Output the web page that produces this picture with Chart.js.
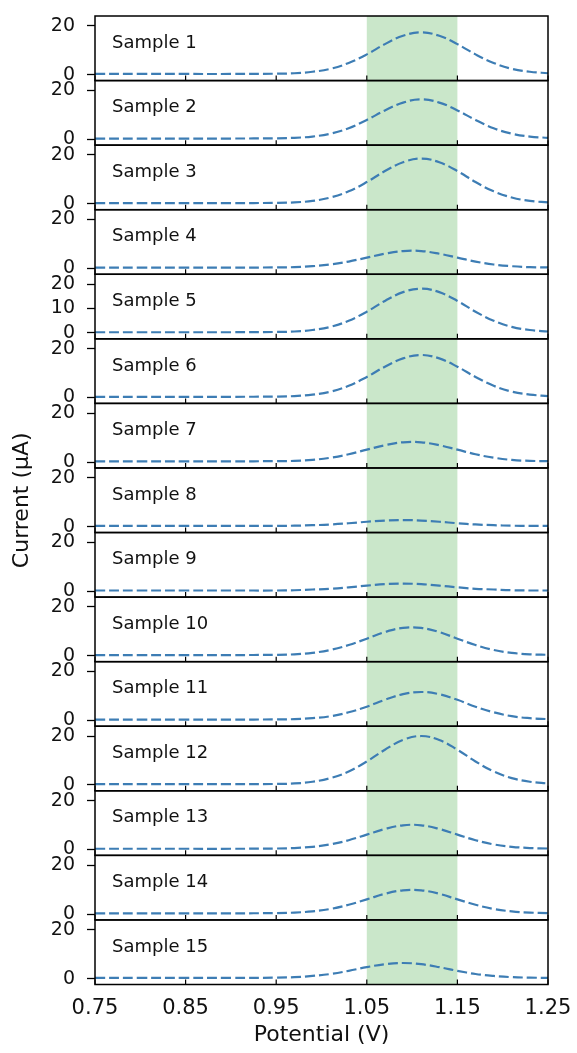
<!DOCTYPE html>
<html lang="en">
<head>
<meta charset="UTF-8">
<title>Samples - Current vs Potential</title>
<script src="https://cdn.jsdelivr.net/npm/chart.js"></script>
<style>
  body { margin: 0; background: #fff; }
  #wrap { width: 577px; height: 1053px; }
</style>
</head>
<body>
<div id="wrap"><canvas id="chart" width="577" height="1053"></canvas></div>
<script>
// potential (V) sample points shared by every trace
const potentials = [0.75, 0.80, 0.85, 0.90, 0.95, 0.97, 0.99, 1.01, 1.03, 1.05, 1.07, 1.09, 1.11, 1.13, 1.15, 1.17, 1.19, 1.21, 1.23, 1.25];

// current (uA)
const sample1  = [0.3,0.3,0.3,0.3,0.4,0.6,1.2,2.4,4.8,8.3,12.5,15.9,17.3,15.9,12.5,8.3,4.8,2.4,1.2,0.6];
const sample2  = [0.3,0.3,0.3,0.3,0.4,0.6,1.1,2.3,4.5,7.9,11.8,15.0,16.3,15.0,11.8,7.9,4.5,2.3,1.1,0.6];
const sample3  = [0.3,0.3,0.3,0.3,0.4,0.6,1.2,2.6,5.1,8.9,13.4,17.0,18.5,17.0,13.4,8.9,5.1,2.6,1.2,0.6];
const sample4  = [0.3,0.3,0.3,0.3,0.4,0.5,0.9,1.6,2.8,4.4,6.0,7.1,7.1,6.0,4.4,2.8,1.6,0.9,0.5,0.4];
const sample5  = [0.3,0.3,0.3,0.3,0.4,0.6,1.2,2.5,5.0,8.7,13.1,16.7,18.1,16.7,13.1,8.7,5.0,2.5,1.2,0.6];
const sample6  = [0.3,0.3,0.3,0.3,0.4,0.6,1.2,2.4,4.8,8.4,12.6,16.0,17.4,16.0,12.6,8.4,4.8,2.4,1.2,0.6];
const sample7  = [0.3,0.3,0.3,0.3,0.4,0.5,0.9,1.8,3.2,5.1,6.9,8.1,8.1,6.9,5.1,3.2,1.8,0.9,0.5,0.4];
const sample8  = [0.3,0.3,0.3,0.3,0.3,0.4,0.6,0.9,1.4,2.0,2.5,2.7,2.5,2.0,1.4,0.9,0.6,0.4,0.3,0.3];
const sample9  = [0.3,0.3,0.3,0.3,0.3,0.4,0.7,1.0,1.6,2.3,2.9,3.1,2.9,2.3,1.6,1.0,0.7,0.4,0.3,0.3];
const sample10 = [0.3,0.3,0.3,0.3,0.4,0.6,1.2,2.4,4.4,7.0,9.7,11.4,11.4,9.7,7.0,4.4,2.4,1.2,0.6,0.4];
const sample11 = [0.3,0.3,0.3,0.3,0.4,0.5,0.9,1.7,3.3,5.6,8.4,10.7,11.6,10.7,8.4,5.6,3.3,1.7,0.9,0.5];
const sample12 = [0.3,0.3,0.3,0.3,0.4,0.6,1.3,2.8,5.5,9.6,14.4,18.4,20.0,18.4,14.4,9.6,5.5,2.8,1.3,0.6];
const sample13 = [0.3,0.3,0.3,0.3,0.4,0.6,1.1,2.1,3.8,6.1,8.4,9.9,9.9,8.4,6.1,3.8,2.1,1.1,0.6,0.4];
const sample14 = [0.3,0.3,0.3,0.3,0.4,0.6,1.1,2.1,3.8,6.0,8.3,9.7,9.7,8.3,6.0,3.8,2.1,1.1,0.6,0.4];
const sample15 = [0.3,0.3,0.3,0.3,0.4,0.6,1.1,1.9,3.2,4.7,5.9,6.4,5.9,4.7,3.2,1.9,1.1,0.6,0.4,0.3];

const sampleNames = ['Sample 1','Sample 2','Sample 3','Sample 4','Sample 5','Sample 6','Sample 7','Sample 8',
                     'Sample 9','Sample 10','Sample 11','Sample 12','Sample 13','Sample 14','Sample 15'];
const sampleSeries = [sample1, sample2, sample3, sample4, sample5, sample6, sample7, sample8,
                      sample9, sample10, sample11, sample12, sample13, sample14, sample15];

const xTickValues = [0.75, 0.85, 0.95, 1.05, 1.15, 1.25];
const xTickLabels = ['0.75', '0.85', '0.95', '1.05', '1.15', '1.25'];
const yTickValues = [0, 20];
const yTickValuesPanel5 = [0, 10, 20];
const xRange = [0.75, 1.25];
const yRange = [-2.4, 24];
const band = [1.05, 1.15];

const FONT = 'DejaVu Sans';
const textColor = '#111';
const lineColor = '#3d7db4';

const panelDecor = {
  id: 'panelDecor',
  beforeDatasetsDraw(chart) {
    const { ctx, chartArea, scales } = chart;
    const x0 = scales.x.getPixelForValue(band[0]);
    const x1 = scales.x.getPixelForValue(band[1]);
    ctx.save();
    ctx.fillStyle = 'rgba(44,160,44,0.25)';
    ctx.fillRect(x0, chartArea.top, x1 - x0, chartArea.bottom - chartArea.top);
    ctx.restore();
  },
  afterDatasetsDraw(chart) {
    const { ctx, chartArea, scales } = chart;
    ctx.save();
    ctx.strokeStyle = '#000';
    ctx.fillStyle = textColor;
    ctx.font = '18px "' + FONT + '"';
    ctx.textBaseline = 'middle';
    sampleNames.forEach((name, i) => {
      const s = scales['y' + (i + 1)];
      // inward x ticks at the bottom of each panel
      ctx.lineWidth = 1.2;
      xTickValues.forEach(v => {
        const px = scales.x.getPixelForValue(v);
        ctx.beginPath();
        ctx.moveTo(px, s.bottom);
        ctx.lineTo(px, s.bottom - 5);
        ctx.stroke();
      });
      ctx.lineWidth = 1.5;
      ctx.strokeRect(chartArea.left, s.top, chartArea.right - chartArea.left, s.bottom - s.top);
      ctx.fillText(name, chartArea.left + 17, s.top + 27);
    });
    ctx.restore();
  }
};

const scales = {
  x: {
    type: 'linear',
    min: xRange[0],
    max: xRange[1],
    afterBuildTicks: s => { s.ticks = xTickValues.map(v => ({ value: v })); },
    afterFit: s => { s.height = 68.5; },
    ticks: {
      callback: (v, i) => xTickLabels[i],
      font: { family: FONT, size: 21 },
      color: textColor,
      padding: 3,
      maxRotation: 0,
      autoSkip: false
    },
    grid: { display: false },
    border: { display: false },
    title: {
      display: true,
      text: 'Potential (V)',
      font: { family: FONT, size: 22 },
      color: textColor,
      padding: { top: 4, bottom: 5 }
    }
  }
};

sampleNames.forEach((name, i) => {
  scales['y' + (i + 1)] = {
    type: 'linear',
    position: 'left',
    stack: 'panels',
    stackWeight: 1,
    weight: 15 - i,
    min: yRange[0],
    max: yRange[1],
    afterBuildTicks: s => {
      s.ticks = (i === 4 ? yTickValuesPanel5 : yTickValues).map(v => ({ value: v }));
    },
    afterFit: s => { s.width = 95; s.paddingTop = 0; s.paddingBottom = 0; },
    ticks: {
      font: { family: FONT, size: 19 },
      color: textColor,
      padding: 12,
      autoSkip: false
    },
    grid: { drawOnChartArea: false, tickLength: 8, color: '#000', tickWidth: 1.3 },
    border: { display: false },
    title: {
      display: i === 7,
      text: 'Current (μA)',
      font: { family: FONT, size: 22 },
      color: textColor,
      padding: { top: 9, bottom: 0 }
    }
  };
});

const datasets = sampleSeries.map((series, i) => ({
  label: sampleNames[i],
  data: series.map((c, k) => ({ x: potentials[k], y: c })),
  xAxisID: 'x',
  yAxisID: 'y' + (i + 1),
  borderColor: lineColor,
  borderWidth: 2.2,
  borderDash: [10, 4],
  pointRadius: 0,
  fill: false,
  tension: 0.4
}));

new Chart(document.getElementById('chart'), {
  type: 'line',
  data: { datasets },
  options: {
    responsive: false,
    animation: false,
    devicePixelRatio: 1,
    layout: { padding: { left: 0, right: 29, top: 16, bottom: 0 } },
    plugins: { legend: { display: false }, tooltip: { enabled: false } },
    scales
  },
  plugins: [panelDecor]
});
</script>
</body>
</html>
